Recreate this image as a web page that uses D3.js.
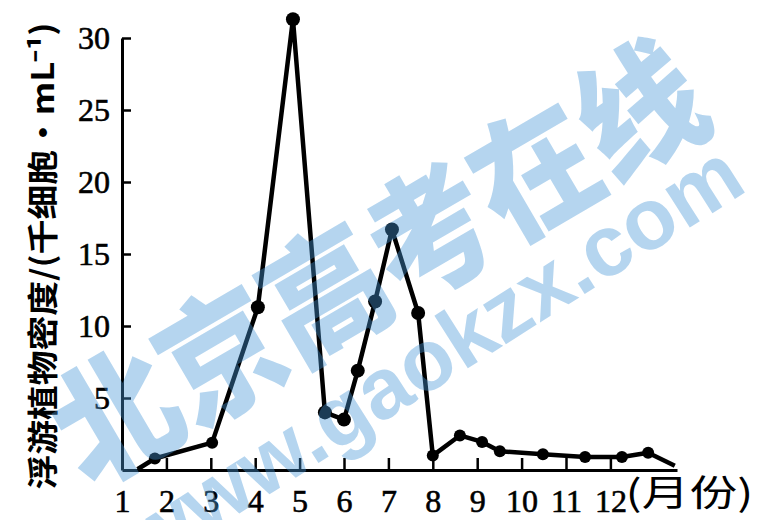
<!DOCTYPE html>
<html>
<head>
<meta charset="utf-8">
<script src="https://cdn.jsdelivr.net/npm/d3@7"></script>
<style>
body { margin: 0; background: #fff; }
svg { display: block; }
</style>
</head>
<body>
<svg id="chart"></svg>
<script>
// values
const monthTicks = [1, 2, 3, 4, 5, 6, 7, 8, 9, 10, 11, 12];
const yTicks = [5, 10, 15, 20, 25, 30];
const months  = [1.35, 1.74, 3.03, 4.06, 4.85, 5.57, 6.0, 6.31, 6.70, 7.08, 7.67, 8.0, 8.61, 9.11, 9.51, 10.48, 11.43, 12.26, 12.85, 13.45];
const density = [0.05, 0.8,  1.9,  11.3, 31.3, 4.0,  3.5, 6.9,  11.7, 16.7, 10.9, 1.0, 2.4,  1.95, 1.3,  1.1,   0.9,   0.9,   1.2,   0.3];
const yLabel = '浮游植物密度/(千细胞·mL⁻¹)';
const xUnit = '(月份)';
const wmTitle = '北京高考在线';
const wmUrl = 'www.gaokzx.com';

const size = {w: 757, h: 520};
const svg = d3.select('svg#chart')
    .attr('width', size.w)
    .attr('height', size.h);

const x = d3.scaleLinear().domain([1, 13.5]).range([122, 677]);
const y = d3.scaleLinear().domain([0, 30]).range([470, 38]);

const points = months.map((m, i) => ({m: m, v: density[i]}));

// y axis, ticks pointing inward
const yAxisG = svg.append('g')
    .classed('axis-y', true)
    .attr('transform', `translate(${x(1)}, 0)`)
    .call(d3.axisLeft(y)
        .tickValues(yTicks)
        .tickSizeInner(-9)
        .tickSizeOuter(0)
        .tickPadding(12));

// x axis, ticks pointing up
const xAxisG = svg.append('g')
    .classed('axis-x', true)
    .attr('transform', `translate(0, ${y(0)})`)
    .call(d3.axisBottom(x)
        .tickValues(monthTicks)
        .tickSizeInner(-12)
        .tickSizeOuter(0)
        .tickPadding(19));

[yAxisG, xAxisG].forEach(g => {
    g.select('.domain').attr('stroke', '#000').attr('stroke-width', 3);
    g.selectAll('.tick line').attr('stroke', '#000').attr('stroke-width', 2.5);
    g.selectAll('.tick text')
        .attr('fill', '#000')
        .attr('stroke', '#000')
        .attr('stroke-width', 0.6)
        .style('font-family', '"Liberation Serif", "DejaVu Serif", serif')
        .style('font-size', '32px');
});
xAxisG.select('.tick line').remove();

// data line
const line = d3.line()
    .x(d => x(d.m))
    .y(d => y(d.v));

svg.append('path')
    .datum(points)
    .attr('d', line)
    .attr('fill', 'none')
    .attr('stroke', '#000')
    .attr('stroke-width', 4.5)
    .attr('stroke-linejoin', 'round');

svg.append('g')
    .selectAll('circle')
    .data(points.slice(1, -1))
    .join('circle')
    .attr('cx', d => x(d.m))
    .attr('cy', d => y(d.v))
    .attr('r', d => d.v > 3 ? 7 : 6)
    .attr('fill', '#000');

// axis titles
svg.append('text')
    .attr('transform', 'translate(40, 256) rotate(-90)')
    .attr('text-anchor', 'middle')
    .attr('dominant-baseline', 'central')
    .attr('textLength', 467)
    .attr('lengthAdjust', 'spacingAndGlyphs')
    .style('font-family', '"Noto Sans CJK SC", sans-serif')
    .style('font-weight', 'bold')
    .style('font-size', '31px')
    .attr('fill', '#000')
    .text(yLabel);

svg.append('text')
    .attr('x', x(12) + 15)
    .attr('y', 506)
    .attr('textLength', 128)
    .attr('lengthAdjust', 'spacingAndGlyphs')
    .style('font-family', '"Noto Sans CJK SC", sans-serif')
    .style('font-size', '36px')
    .attr('fill', '#000')
    .text(xUnit);

// watermark on top
const wm = svg.append('g')
    .classed('watermark', true)
    .attr('fill', 'rgb(70,150,215)')
    .attr('fill-opacity', 0.4);

wm.append('text')
    .attr('transform', 'translate(377, 262) rotate(-30.3)')
    .attr('text-anchor', 'middle')
    .attr('dy', '0.38em')
    .attr('textLength', 728)
    .attr('lengthAdjust', 'spacingAndGlyphs')
    .style('font-family', '"Noto Sans CJK SC", sans-serif')
    .style('font-weight', 900)
    .style('font-size', '134px')
    .text(wmTitle);

wm.append('text')
    .attr('transform', 'translate(436, 362) rotate(-32.4)')
    .attr('text-anchor', 'middle')
    .attr('dy', '0.26em')
    .style('font-family', '"Liberation Sans", Arial, sans-serif')
    .style('font-weight', 'bold')
    .style('font-size', '86px')
    .text(wmUrl);
</script>
</body>
</html>
